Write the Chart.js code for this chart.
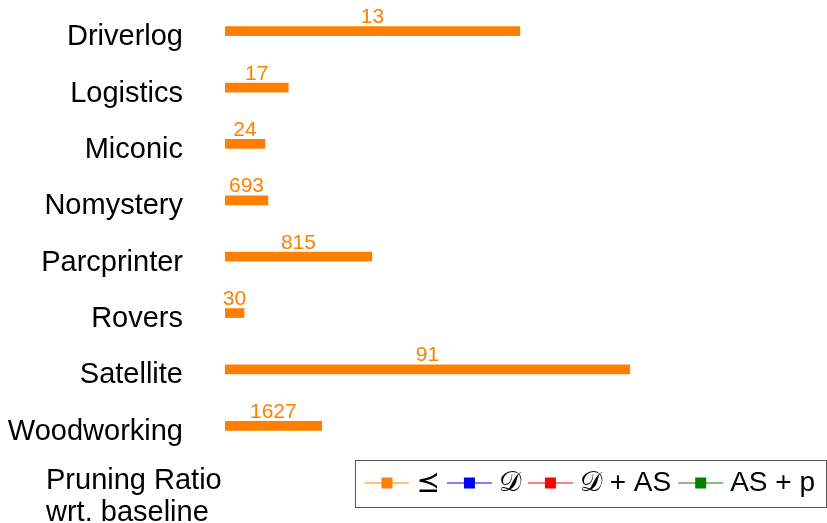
<!DOCTYPE html>
<html>
<head>
<meta charset="utf-8">
<title>Pruning ratio per domain</title>
<script src="https://cdn.jsdelivr.net/npm/chart.js@4.4.1/dist/chart.umd.min.js"></script>
<style>
  html, body { margin: 0; padding: 0; background: #fff; }
  #wrap { width: 827px; height: 523px; position: relative; }
</style>
</head>
<body>
<div id="wrap"><canvas id="chart"></canvas></div>
<script>
// domains, pruning ratio (% of baseline) and the number printed above each bar
const domains = ['Driverlog', 'Logistics', 'Miconic', 'Nomystery', 'Parcprinter', 'Rovers', 'Satellite', 'Woodworking'];
const pruningRatio = [49.4, 10.6, 6.7, 7.2, 24.6, 3.2, 67.8, 16.2];
const barLabels = [13, 17, 24, 693, 815, 30, 91, 1627];

// legend entries, only the first one has bars here
const seriesNames = ['⪯', '𝒟', '𝒟 + AS', 'AS + p'];
const seriesColors = ['#ff8000', '#0000ff', '#ff0000', '#008000'];

const FONT = '"Liberation Sans", "DejaVu Sans", sans-serif';

// small line-with-square marker used as legend point style
function legendMarker(color) {
  const c = document.createElement('canvas');
  c.width = 52;
  c.height = 13;
  const g = c.getContext('2d');
  g.strokeStyle = color;
  g.lineWidth = 1;
  g.beginPath();
  g.moveTo(7, 6.5);
  g.lineTo(52, 6.5);
  g.stroke();
  g.fillStyle = color;
  g.fillRect(24, 1, 11, 11);
  return c;
}

const markers = seriesColors.map(legendMarker);

// numbers above the bars, the legend frame and the side caption
const annotations = {
  id: 'annotations',
  afterDraw(chart) {
    const ctx = chart.ctx;
    const meta = chart.getDatasetMeta(0);
    ctx.save();
    ctx.font = '21px ' + FONT;
    ctx.fillStyle = seriesColors[0];
    ctx.textAlign = 'center';
    ctx.textBaseline = 'alphabetic';
    meta.data.forEach((bar, i) => {
      const cx = (bar.x + bar.base) / 2;
      ctx.fillText(String(barLabels[i]), cx, bar.y - bar.height / 2 - 3.5);
    });

    const boxes = chart.legend.legendHitBoxes;
    if (boxes && boxes.length) {
      const first = boxes[0];
      const last = boxes[boxes.length - 1];
      const cy = first.top + first.height / 2;
      const left = Math.round(first.left - 9) + 0.5;
      const right = Math.min(last.left + last.width + 12, chart.width - 1) + 0.5;
      ctx.strokeStyle = '#555';
      ctx.lineWidth = 1;
      ctx.strokeRect(left, Math.round(cy - 23) + 0.5, right - left, 47);

      ctx.fillStyle = '#000';
      ctx.font = '29px ' + FONT;
      ctx.textAlign = 'left';
      ctx.fillText('Pruning Ratio', 46, cy + 6);
      ctx.fillText('wrt. baseline', 46, cy + 38);
    }
    ctx.restore();
  }
};

const datasets = seriesNames.map((name, i) => ({
  label: name,
  data: i === 0 ? pruningRatio : [],
  backgroundColor: seriesColors[i],
  borderWidth: 0,
  barThickness: 9,
  grouped: false
}));

new Chart(document.getElementById('chart'), {
  type: 'bar',
  data: { labels: domains, datasets },
  options: {
    indexAxis: 'y',
    responsive: true,
    maintainAspectRatio: false,
    animation: false,
    layout: { padding: { top: 3, right: 5, bottom: 16, left: 0 } },
    scales: {
      x: {
        min: 0,
        max: 100,
        grid: { display: false },
        border: { display: false },
        ticks: { display: false },
        afterFit: (scale) => { scale.height = 8; }
      },
      y: {
        grid: { display: false, drawTicks: false },
        border: { display: false },
        ticks: {
          color: '#000',
          font: { family: FONT, size: 29 },
          padding: 42,
          labelOffset: 6
        },
        afterFit: (scale) => {
          // labels sit left of the bars; don't reserve room above/below for them
          scale.width = 225;
          scale.paddingTop = 0;
          scale.paddingBottom = 0;
        }
      }
    },
    plugins: {
      tooltip: { enabled: false },
      legend: {
        position: 'bottom',
        align: 'end',
        labels: {
          usePointStyle: true,
          pointStyleWidth: 38,
          padding: 7,
          color: '#000',
          font: { family: FONT, size: 28 },
          generateLabels: () => seriesNames.map((name, i) => ({
            text: name,
            pointStyle: markers[i],
            fillStyle: seriesColors[i],
            strokeStyle: seriesColors[i],
            lineWidth: 0,
            fontColor: '#000',
            datasetIndex: i
          }))
        }
      }
    }
  },
  plugins: [annotations]
});
</script>
</body>
</html>
